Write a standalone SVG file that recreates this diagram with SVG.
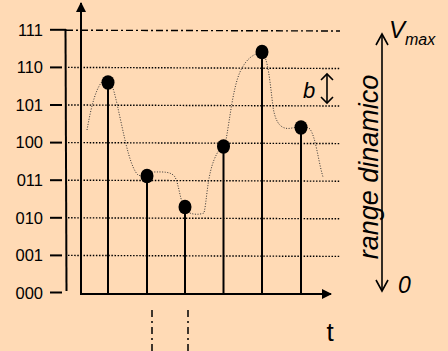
<svg xmlns="http://www.w3.org/2000/svg" width="448" height="351" viewBox="0 0 448 351">
<defs>
<style>
.lbl{font-family:'Liberation Sans',Arial,Helvetica,sans-serif;font-size:16.5px;fill:#000}
.it{font-family:'Liberation Sans',Arial,Helvetica,sans-serif;font-style:italic;fill:#000}
.tick{stroke:#000;stroke-width:2}
.grid{stroke:#000;stroke-width:1.4;stroke-dasharray:1.5 1.6;fill:none}
.stem{stroke:#000;stroke-width:2}
.dot{fill:#000}
.analog{stroke:#333;stroke-width:1;stroke-dasharray:1 1.6;fill:none}
.axis{stroke:#000;stroke-width:2;fill:none}
.open{stroke:#000;stroke-width:1.6;fill:none}
</style>
<marker id="fa" viewBox="0 0 10 10" refX="9" refY="5" markerWidth="10" markerHeight="10" markerUnits="userSpaceOnUse" orient="auto">
<path d="M0,0 L10,5 L0,10 Z" fill="#000"/>
</marker>
</defs>
<rect width="448" height="351" fill="#FFDAB5"/>

<g id="level-labels" font-family="Liberation Sans, Arial, sans-serif" font-size="16.5">
<text class="lbl" x="43" y="35.6" text-anchor="end">111</text>
<text class="lbl" x="43" y="73.2" text-anchor="end">110</text>
<text class="lbl" x="43" y="110.8" text-anchor="end">101</text>
<text class="lbl" x="43" y="148.4" text-anchor="end">100</text>
<text class="lbl" x="43" y="186" text-anchor="end">011</text>
<text class="lbl" x="43" y="223.6" text-anchor="end">010</text>
<text class="lbl" x="43" y="261.2" text-anchor="end">001</text>
<text class="lbl" x="43" y="298.5" text-anchor="end">000</text>
</g>

<g id="ticks">
<line class="tick" x1="50" y1="29.8" x2="66" y2="29.8"/>
<line class="tick" x1="50" y1="67.4" x2="62" y2="67.4"/>
<line class="tick" x1="50" y1="105" x2="62" y2="105"/>
<line class="tick" x1="50" y1="142.6" x2="62" y2="142.6"/>
<line class="tick" x1="50" y1="180.2" x2="62" y2="180.2"/>
<line class="tick" x1="50" y1="217.8" x2="62" y2="217.8"/>
<line class="tick" x1="50" y1="255.4" x2="62" y2="255.4"/>
<line class="tick" x1="50" y1="292.5" x2="62" y2="292.5"/>
<line class="tick" x1="65.5" y1="29" x2="66.5" y2="291"/>
</g>

<g id="grid">
<line x1="66" y1="30.2" x2="340" y2="31" stroke="#000" stroke-width="1.4" stroke-dasharray="7 3 2 3"/>
<line class="grid" x1="68" y1="67.4" x2="340" y2="68.5"/>
<line class="grid" x1="68" y1="105" x2="340" y2="106"/>
<line class="grid" x1="68" y1="142.6" x2="340" y2="143.6"/>
<line class="grid" x1="68" y1="180.2" x2="340" y2="181.2"/>
<line class="grid" x1="68" y1="217.8" x2="340" y2="218.8"/>
<line class="grid" x1="68" y1="255.4" x2="340" y2="256.4"/>
</g>

<g id="analog-signal">
<path class="analog" d="M87,130 C91,108 96,84 106,78 C113,80 116,100 121,122 C126,145 131,168 138,175 C142,177 146,173 152,172 C162,172 171,171 175,177 C179,185 180,200 185,210 C190,215 199,215 204,213 C207,200 207,178 214,160 C218,150 222,146 226,140 C230,118 233,88 240,72 C246,59 253,54 262,52 C268,58 270,82 273,107 C276,126 283,130 292,128 C298,127 305,125 310,129 C316,138 318,160 323,177"/>
</g>

<g id="samples">
<line class="stem" x1="108" y1="83" x2="108" y2="294"/>
<ellipse class="dot" cx="108" cy="82.5" rx="6.5" ry="7.3"/>
<line class="stem" x1="147" y1="176" x2="147" y2="294"/>
<ellipse class="dot" cx="147" cy="176" rx="6.5" ry="7.3"/>
<line class="stem" x1="185" y1="207" x2="185" y2="294"/>
<ellipse class="dot" cx="185" cy="207" rx="6.5" ry="7.3"/>
<line class="stem" x1="223.5" y1="147" x2="223.5" y2="294"/>
<ellipse class="dot" cx="223.5" cy="146.5" rx="6.5" ry="7.3"/>
<line class="stem" x1="262" y1="52" x2="262" y2="294"/>
<ellipse class="dot" cx="262" cy="52" rx="6.5" ry="7.3"/>
<line class="stem" x1="301" y1="128" x2="301" y2="294"/>
<ellipse class="dot" cx="301" cy="127.5" rx="6.5" ry="7.3"/>
</g>

<g id="axes">
<line class="axis" x1="81" y1="294" x2="81" y2="3" marker-end="url(#fa)"/>
<line class="axis" x1="80" y1="294" x2="331" y2="294" marker-end="url(#fa)"/>
<line x1="152" y1="310" x2="152" y2="351" stroke="#000" stroke-width="1.5" stroke-dasharray="7 4 2 4"/>
<line x1="188" y1="310" x2="188" y2="351" stroke="#000" stroke-width="1.5" stroke-dasharray="7 4 2 4"/>
<text x="330" y="341" text-anchor="middle" font-family="Liberation Sans, Arial, sans-serif" font-size="26" fill="#000">t</text>
</g>

<g id="quantum-step">
<text class="it" x="303" y="98" font-family="Liberation Sans, Arial, sans-serif" font-style="italic" font-size="22">b</text>
<line class="open" x1="327" y1="74" x2="327" y2="103"/>
<polyline class="open" points="321,80 327,74 333,80"/>
<polyline class="open" points="321,97 327,103 333,97"/>
</g>

<g id="dynamic-range" font-family="Liberation Sans, Arial, sans-serif" font-style="italic">
<line class="open" x1="382" y1="34" x2="382" y2="291"/>
<polyline class="open" points="376,45 382,34 388,45"/>
<polyline class="open" points="376,280 382,291 388,280"/>
<text class="it" x="389" y="38" font-size="24">V<tspan font-size="16" dy="7">max</tspan></text>
<text class="it" x="398" y="293" font-size="23">0</text>
<text class="it" transform="translate(378,167) rotate(-90)" text-anchor="middle" font-size="27">range dinamico</text>
</g>
</svg>
